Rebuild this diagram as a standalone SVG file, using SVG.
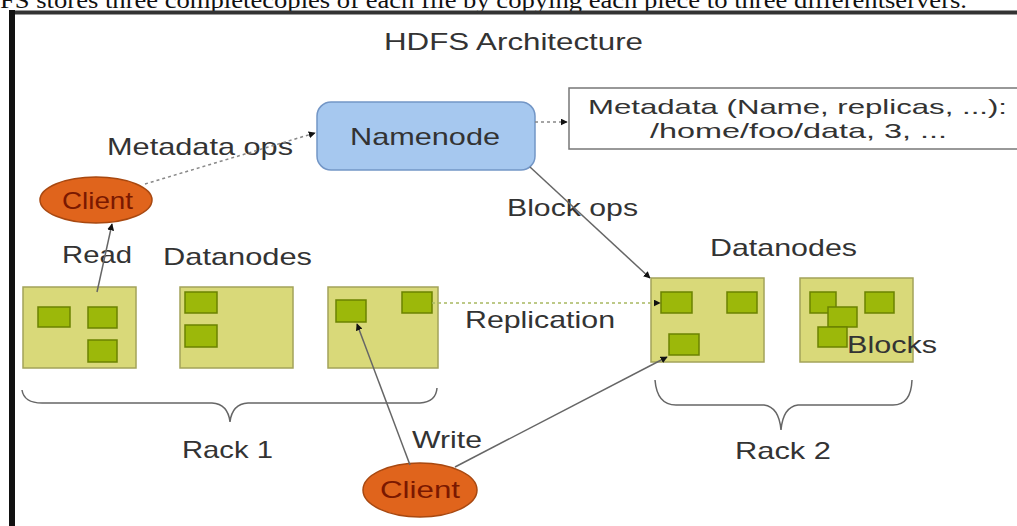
<svg xmlns="http://www.w3.org/2000/svg" width="1017" height="526" viewBox="0 0 1017 526">
<style>
.lbl{font-family:"Liberation Sans",Arial,sans-serif;font-size:24px;fill:#333;}
.md{font-family:"Liberation Sans",Arial,sans-serif;font-size:21px;fill:#333;}
.cap{font-family:"Liberation Serif","Times New Roman",serif;font-size:23px;fill:#111;}
.dn{fill:#d9d979;stroke:#a3a35a;stroke-width:1.5;}
.blk{fill:#9cb80a;stroke:#6b8200;stroke-width:1.5;}
.cl{fill:#e0641c;stroke:#a84810;stroke-width:1.5;}
.clt{font-family:"Liberation Sans",Arial,sans-serif;font-size:24px;fill:#7a1800;}
.ln{stroke:#666;stroke-width:1.5;fill:none;}
.dash{stroke:#888;stroke-width:1.5;fill:none;stroke-dasharray:3 3;}
.rep{stroke:#a8b860;stroke-width:1.5;fill:none;stroke-dasharray:3 3;}
.brace{stroke:#666;stroke-width:1.5;fill:none;}
</style>
<defs>
<marker id="ah" viewBox="0 0 10 10" refX="9" refY="5" markerWidth="7" markerHeight="7" orient="auto" markerUnits="userSpaceOnUse">
<path d="M0,0 L10,5 L0,10 z" fill="#111"/>
</marker>
</defs>
<rect x="0" y="0" width="1017" height="526" fill="#fff"/>
<text class="cap" x="0" y="8" textLength="967" lengthAdjust="spacingAndGlyphs">FS stores three completecopies of each file by copying each piece to three differentservers.</text>
<line x1="9" y1="12.5" x2="1017" y2="12.5" stroke="#333" stroke-width="4"/>
<line x1="12" y1="10" x2="12" y2="526" stroke="#111" stroke-width="6"/>

<text class="lbl" x="384" y="50" textLength="259" lengthAdjust="spacingAndGlyphs">HDFS Architecture</text>

<g id="label-metadata-ops"><text class="lbl" x="107" y="155" textLength="186" lengthAdjust="spacingAndGlyphs">Metadata ops</text></g>
<g id="label-block-ops"><text class="lbl" x="507" y="216" textLength="131" lengthAdjust="spacingAndGlyphs">Block ops</text></g>
<g id="label-read"><text class="lbl" x="62" y="263" textLength="70" lengthAdjust="spacingAndGlyphs">Read</text></g>
<g id="label-replication"><text class="lbl" x="465" y="328" textLength="150" lengthAdjust="spacingAndGlyphs">Replication</text></g>
<g id="label-write"><text class="lbl" x="412" y="448" textLength="70" lengthAdjust="spacingAndGlyphs">Write</text></g>

<g id="namenode">
<rect x="317" y="102" width="218" height="68" rx="14" fill="#a6c8ef" stroke="#7396c6" stroke-width="1.5"/>
<text class="lbl" x="350" y="145" textLength="150" lengthAdjust="spacingAndGlyphs" fill="#222">Namenode</text>
</g>

<g id="metadata">
<rect x="569" y="88" width="470" height="61" fill="#fff" stroke="#777" stroke-width="1.5"/>
<text class="md" x="588" y="114" textLength="419" lengthAdjust="spacingAndGlyphs">Metadata (Name, replicas, ...):</text>
<text class="md" x="650" y="138" textLength="297" lengthAdjust="spacingAndGlyphs">/home/foo/data, 3, ...</text>
</g>

<g id="client-read">
<ellipse class="cl" cx="96" cy="200" rx="56" ry="23"/>
<text class="clt" x="62" y="209" textLength="71" lengthAdjust="spacingAndGlyphs">Client</text>
</g>

<g id="client-write">
<ellipse class="cl" cx="420" cy="490" rx="57" ry="27"/>
<text class="clt" x="380" y="498" textLength="80" lengthAdjust="spacingAndGlyphs">Client</text>
</g>

<g id="rack1">
<text class="lbl" x="163" y="265" textLength="149" lengthAdjust="spacingAndGlyphs">Datanodes</text>
<g id="dn1">
<rect class="dn" x="23" y="287" width="113" height="81"/>
<rect class="blk" x="38" y="307" width="32" height="20"/>
<rect class="blk" x="88" y="307" width="29" height="21"/>
<rect class="blk" x="88" y="340" width="29" height="22"/>
</g>
<g id="dn2">
<rect class="dn" x="180" y="287" width="113" height="81"/>
<rect class="blk" x="185" y="292" width="32" height="21"/>
<rect class="blk" x="185" y="325" width="32" height="22"/>
</g>
<g id="dn3">
<rect class="dn" x="328" y="287" width="110" height="81"/>
<rect class="blk" x="336" y="300" width="30" height="22"/>
<rect class="blk" x="402" y="292" width="30" height="21"/>
</g>
<path class="brace" d="M22,390 Q24,403 42,403 L212,403 Q228,404 230,422 Q232,404 248,403 L420,403 Q436,402 437,388"/>
<text class="lbl" x="182" y="458" textLength="91" lengthAdjust="spacingAndGlyphs">Rack 1</text>
</g>

<g id="rack2">
<text class="lbl" x="710" y="256" textLength="147" lengthAdjust="spacingAndGlyphs">Datanodes</text>
<g id="dn4">
<rect class="dn" x="651" y="278" width="113" height="84"/>
<rect class="blk" x="661" y="292" width="31" height="21"/>
<rect class="blk" x="727" y="292" width="30" height="21"/>
<rect class="blk" x="669" y="334" width="30" height="21"/>
</g>
<g id="dn5">
<rect class="dn" x="800" y="278" width="113" height="84"/>
<rect class="blk" x="810" y="292" width="26" height="21"/>
<rect class="blk" x="865" y="292" width="29" height="21"/>
<rect class="blk" x="828" y="307" width="29" height="20"/>
<rect class="blk" x="818" y="327" width="29" height="20"/>
<text class="lbl" x="847" y="353" textLength="90" lengthAdjust="spacingAndGlyphs">Blocks</text>
</g>
<path class="brace" d="M655,380 Q657,405 676,405 L764,405 Q779,407 781,430 Q783,407 798,405 L893,405 Q911,405 912,380"/>
<text class="lbl" x="735" y="459" textLength="96" lengthAdjust="spacingAndGlyphs">Rack 2</text>
</g>

<g id="connectors">
<line class="dash" x1="145" y1="184" x2="315" y2="133" marker-end="url(#ah)"/>
<line class="dash" x1="535" y1="122" x2="567" y2="122" marker-end="url(#ah)"/>
<line class="ln" x1="530" y1="167" x2="650" y2="278" marker-end="url(#ah)"/>
<line class="ln" x1="97" y1="292" x2="112" y2="224" marker-end="url(#ah)"/>
<line class="rep" x1="432" y1="303" x2="660" y2="303" marker-end="url(#ah)"/>
<line class="ln" x1="410" y1="465" x2="357" y2="324" marker-end="url(#ah)"/>
<line class="ln" x1="455" y1="467" x2="667" y2="357" marker-end="url(#ah)"/>
</g>
</svg>
